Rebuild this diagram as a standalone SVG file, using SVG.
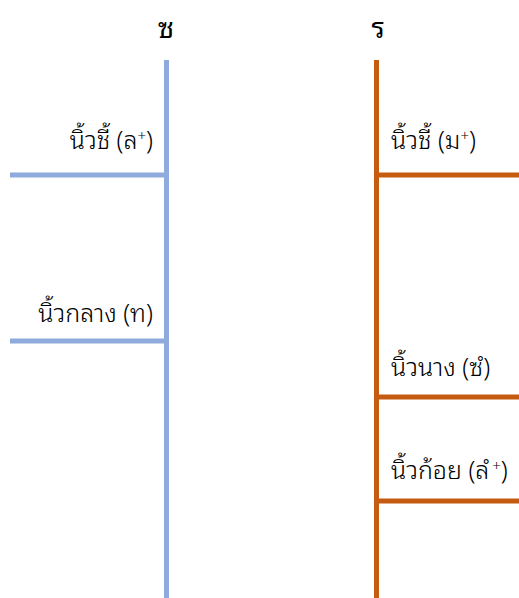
<svg xmlns="http://www.w3.org/2000/svg" width="519" height="598" viewBox="0 0 519 598">
<style>
text{font-family:"Noto Sans Thai Looped","Noto Looped Thai","Loma","Garuda","Tahoma","Noto Sans Thai","Noto Sans",sans-serif;font-size:25px;fill:#000;font-weight:300}
.b{stroke:#8FAADC;stroke-width:5;fill:none}
.o{stroke:#C55A11;stroke-width:5;fill:none}
.sup{font-size:15px}
.h{font-size:28px;font-weight:400}
.r{text-anchor:end}
.m{text-anchor:middle}
</style>
<rect width="519" height="598" fill="#fff"/>
<g id="connectors">
<line class="b" x1="166.5" y1="60" x2="166.5" y2="598"/>
<line class="b" x1="10" y1="175" x2="166.5" y2="175"/>
<line class="b" x1="10" y1="341" x2="166.5" y2="341"/>
<line class="o" x1="376.5" y1="60" x2="376.5" y2="598"/>
<line class="o" x1="376.5" y1="175" x2="519" y2="175"/>
<line class="o" x1="376.5" y1="397" x2="519" y2="397"/>
<line class="o" x1="376.5" y1="501" x2="519" y2="501"/>
</g>
<g id="head-so"><text class="m h" x="166" y="38">ซ</text></g>
<g id="head-ro"><text class="m h" x="378" y="38">ร</text></g>
<g id="n1"><text class="r" x="153" y="149">นิ้วชี้ (ล<tspan class="sup" dy="-8">+</tspan><tspan dy="8">)</tspan></text></g>
<g id="n2"><text class="r" x="153" y="322">นิ้วกลาง (ท)</text></g>
<g id="n3"><text x="391" y="149">นิ้วชี้ (ม<tspan class="sup" dy="-8">+</tspan><tspan dy="8">)</tspan></text></g>
<g id="n4"><text x="391" y="376">นิ้วนาง (ซํ)</text></g>
<g id="n5"><text x="391" y="479">นิ้วก้อย (ลํ<tspan class="sup" dx="3" dy="-8">+</tspan><tspan dy="8">)</tspan></text></g>
</svg>
